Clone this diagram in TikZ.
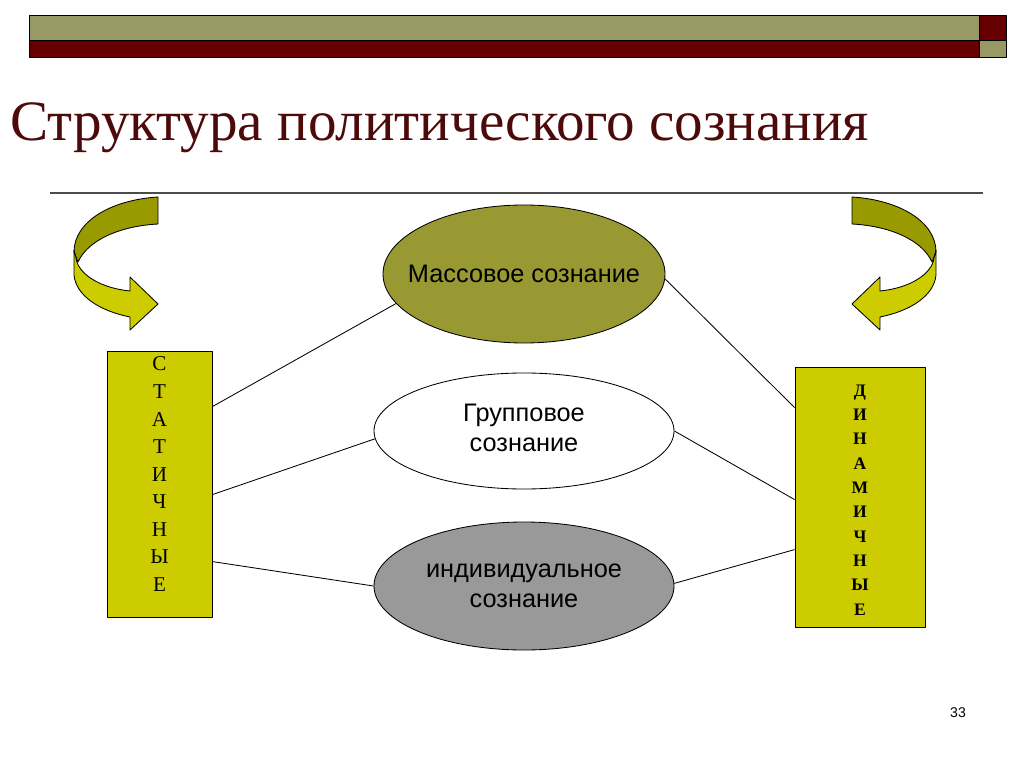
\documentclass[tikz,border=0pt]{standalone}
\usepackage{fontspec}
\setmainfont{Liberation Serif}
\newfontfamily\arialfont{Liberation Sans}
\usetikzlibrary{shapes.geometric}

\definecolor{barolive}{HTML}{999966}
\definecolor{barred}{HTML}{660000}
\definecolor{titlered}{HTML}{4D0A0A}
\definecolor{massolive}{HTML}{999933}
\definecolor{boxyellow}{HTML}{CCCC00}
\definecolor{ribbondark}{HTML}{999900}
\definecolor{indgray}{HTML}{999999}

\def\px{0.025cm}

\def\twistarrow{
    \filldraw[backribbon] (158,197) .. controls (110,200) and (74,222) .. (74,252)
        -- (78,262) .. controls (88,240) and (120,226) .. (158,224) -- cycle;
    \filldraw[frontribbon] (74,250) -- (74,275) .. controls (76,296) and (100,311) .. (130,317)
        -- (130,330) -- (158,304) -- (130,277) -- (130,291)
        .. controls (100,288) and (78,274) .. (76,258) -- cycle;
}

\begin{document}
\begin{tikzpicture}[x=\px, y=-\px, line join=round]
        \tikzstyle{backribbon}=[fill=ribbondark, draw=black, line width=0.6pt]
        \tikzstyle{frontribbon}=[fill=boxyellow, draw=black, line width=0.6pt]
        \tikzstyle{level}=[ellipse, draw=black, line width=0.6pt, inner sep=0pt,
            minimum width=300*\px, minimum height=116*\px]
        \tikzstyle{levtext}=[font=\arialfont\fontsize{18}{21.5}\selectfont, align=center]
        \tikzstyle{letters}=[rectangle, draw=black, line width=0.6pt, fill=boxyellow, inner sep=0pt]
        \tikzstyle{link}=[draw=black, line width=0.6pt]

        \useasboundingbox (0,0) rectangle (1024,767);

        \filldraw[fill=barolive, line width=0.6pt] (29,15) rectangle (979,40);
        \filldraw[fill=barred, line width=0.6pt] (29,40) rectangle (979,57);
        \filldraw[fill=barred, line width=0.6pt] (979,15) rectangle (1006,40);
        \filldraw[fill=barolive, line width=0.6pt] (979,40) rectangle (1006,57);

        \node[anchor=base west, inner sep=0pt, text=titlered, font=\fontsize{40.6}{48}\selectfont]
            (title) at (10,141) {Структура политического сознания};
        \draw[draw=black!70, line width=1pt] (50,193) -- (983,193);

        \twistarrow
        \begin{scope}[shift={(1010,0)}, xscale=-1]
            \twistarrow
        \end{scope}

        \node[level, fill=massolive, minimum width=282*\px, minimum height=138*\px,
            label={[levtext]center:Массовое сознание}] (mass) at (524,274) {};
        \node[level, fill=white, label={[levtext, yshift=2pt]center:Групповое\\сознание}]
            (group) at (524,431) {};
        \node[level, fill=indgray, minimum height=128*\px,
            label={[levtext]center:индивидуальное\\сознание}] (indiv) at (524,586) {};

        \node[letters, minimum width=105*\px, minimum height=266*\px,
            label={[align=center, yshift=7pt, font=\fontsize{15}{19.6}\selectfont]center:С\\Т\\А\\Т\\И\\Ч\\Н\\Ы\\Е}]
            (stat) at (159.5,484) {};
        \node[letters, minimum width=130*\px, minimum height=260*\px,
            label={[align=center, yshift=-2pt, font=\bfseries\fontsize{12.5}{17.3}\selectfont]center:Д\\И\\Н\\А\\М\\И\\Ч\\Н\\Ы\\Е}]
            (dyn) at (860,497) {};

        \path (stat.north east) ++(0,56) coordinate (S-1);
        \path (stat.north east) ++(0,144) coordinate (S-2);
        \path (stat.north east) ++(0,211) coordinate (S-3);
        \path (dyn.north west) ++(0,41) coordinate (D-1);
        \path (dyn.north west) ++(0,133) coordinate (D-2);
        \path (dyn.north west) ++(0,183) coordinate (D-3);

        \path[link]
            (S-1) edge (mass.193)
            (S-2) edge (group.183)
            (S-3) edge (indiv.180)
            (mass.358) edge (D-1)
            (group.0) edge (D-2)
            (indiv.1) edge (D-3)
        ;

        \node[font=\arialfont\fontsize{10}{12}\selectfont] (page) at (958,713) {33};
\end{tikzpicture}
\end{document}
